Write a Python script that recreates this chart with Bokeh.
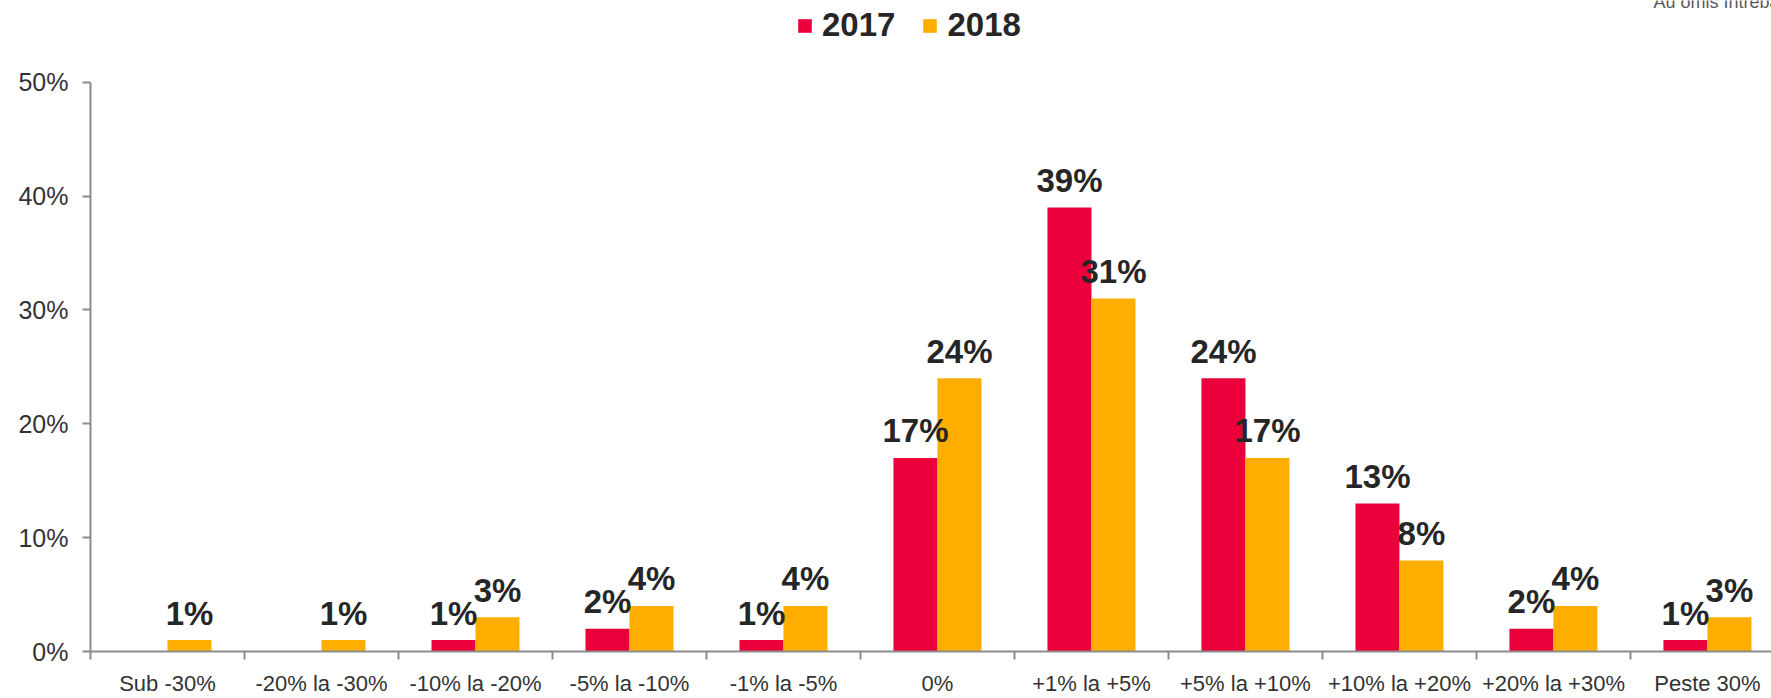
import numpy as np
from bokeh.plotting import figure
from bokeh.models import (ColumnDataSource, Range1d, FixedTicker, PrintfTickFormatter,
                          Legend, LegendItem, Label)
from bokeh.core.properties import value
from bokeh.embed import file_html
from bokeh.resources import INLINE

categories = ["Sub -30%", "-20% la -30%", "-10% la -20%", "-5% la -10%", "-1% la -5%", "0%",
              "+1% la +5%", "+5% la +10%", "+10% la +20%", "+20% la +30%", "Peste 30%"]
values_2017 = [0, 0, 1, 2, 1, 17, 39, 24, 13, 2, 1]
values_2018 = [1, 1, 3, 4, 4, 24, 31, 17, 8, 4, 3]
series_names = ["2017", "2018"]
y_ticks = [0, 10, 20, 30, 40, 50]
note_text = "Au omis întrebarea"

RED = "#EB003B"
ORANGE = "#FFAD00"
FONT = "Liberation Sans"
TXT = "#262626"

n = len(categories)
centers = np.arange(n) + 0.5
bw = 0.2857

src17 = ColumnDataSource(dict(x=centers - bw / 2, top=values_2017))
src18 = ColumnDataSource(dict(x=centers + bw / 2, top=values_2018))
lab17 = ColumnDataSource(dict(
    x=[x for x, v in zip(centers - bw / 2, values_2017) if v > 0],
    y=[v for v in values_2017 if v > 0],
    lab=[f"{v}%" for v in values_2017 if v > 0]))
lab18 = ColumnDataSource(dict(
    x=[x for x, v in zip(centers + bw / 2, values_2018) if v > 0],
    y=[v for v in values_2018 if v > 0],
    lab=[f"{v}%" for v in values_2018 if v > 0]))

p = figure(width=1771, height=698, output_backend="svg", toolbar_location=None,
           x_range=Range1d(0, 10.916), y_range=Range1d(0, 57.17),
           min_border_left=90, min_border_right=0, min_border_top=0, min_border_bottom=44)
p.outline_line_color = None
p.xgrid.visible = False
p.ygrid.visible = False

r17 = p.vbar(x="x", top="top", width=bw, source=src17, fill_color=RED, line_color=None)
r18 = p.vbar(x="x", top="top", width=bw, source=src18, fill_color=ORANGE, line_color=None)

for s in (lab17, lab18):
    p.text(x="x", y="y", text="lab", source=s, y_offset=-27,
           text_align="center", text_baseline="alphabetic",
           text_font=value(FONT), text_font_size="33px", text_font_style="bold",
           text_color=TXT)

AX = "#8c8c8c"
# y axis
ya = p.yaxis[0]
ya.bounds = (0, 50)
ya.ticker = FixedTicker(ticks=y_ticks)
ya.formatter = PrintfTickFormatter(format="%d%%")
ya.axis_line_color = AX
ya.axis_line_width = 2
ya.major_tick_line_color = AX
ya.major_tick_line_width = 2
ya.major_tick_out = 8
ya.major_tick_in = 0
ya.minor_tick_line_color = None
ya.major_label_text_font = FONT
ya.major_label_text_font_size = "25px"
ya.major_label_text_color = "#333333"
ya.major_label_standoff = 14

# x axis
xa = p.xaxis[0]
xa.ticker = FixedTicker(ticks=list(centers), minor_ticks=list(range(n + 1)))
xa.major_label_overrides = {float(c): cat for c, cat in zip(centers, categories)}
xa.axis_line_color = AX
xa.axis_line_width = 2
xa.major_tick_line_color = None
xa.major_tick_out = 0
xa.major_tick_in = 0
xa.minor_tick_line_color = AX
xa.minor_tick_line_width = 2
xa.minor_tick_out = 8
xa.minor_tick_in = 0
xa.major_label_text_font = FONT
xa.major_label_text_font_size = "22px"
xa.major_label_text_color = "#333333"
xa.major_label_standoff = 11

legend = Legend(items=[LegendItem(label=series_names[0], renderers=[r17]),
                       LegendItem(label=series_names[1], renderers=[r18])],
                orientation="horizontal", location=(706, 607),
                glyph_width=17, glyph_height=17, label_standoff=9, spacing=26,
                padding=0, margin=0, border_line_color=None, background_fill_alpha=0,
                label_text_font=FONT, label_text_font_size="33px",
                label_text_font_style="bold", label_text_color=TXT)
p.add_layout(legend, "center")

p.add_layout(Label(x=1563, y=650, x_units="screen", y_units="screen", text=note_text,
                   text_font=FONT, text_font_size="18px", text_color="#595959",
                   text_baseline="alphabetic"))

open("out.html", "w").write(file_html(p, INLINE))
